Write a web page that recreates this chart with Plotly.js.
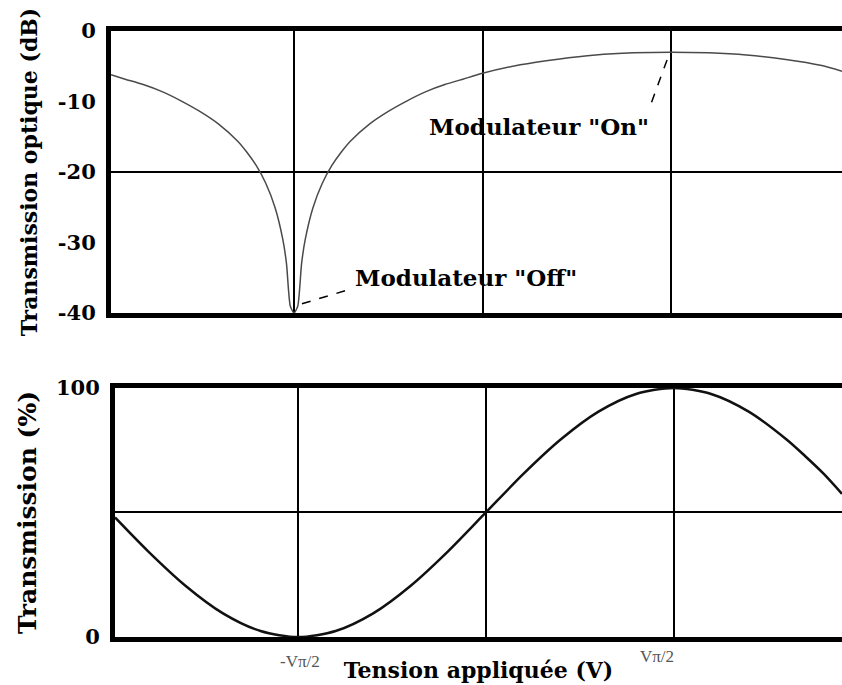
<!DOCTYPE html>
<html>
<head>
<meta charset="utf-8">
<script src="https://cdn.plot.ly/plotly-3.0.1.min.js"></script>
<style>
  body { margin: 0; background: #fff; }
  #chart { width: 842px; height: 685px; }
</style>
</head>
<body>
<div id="chart"></div>
<script>
// voltage in units of V_pi/2 : -1 = "-Vπ/2", 1 = "Vπ/2"
let dbX = [-1.971, -1.9, -1.8, -1.7, -1.6, -1.5, -1.4, -1.3, -1.25, -1.2, -1.15, -1.1, -1.06, -1.04, -1.02, -1.0,
           -0.98, -0.96, -0.94, -0.9, -0.85, -0.8, -0.75, -0.7, -0.6, -0.5, -0.4, -0.3, -0.2, -0.1, 0,
           0.2, 0.4, 0.6, 0.8, 1.0, 1.2, 1.4, 1.6, 1.8, 1.907];
let dbY = [-6.2, -6.8, -7.6, -8.6, -9.9, -11.4, -13.2, -15.6, -17.2, -19.1, -21.6, -25.1, -29.5, -33.0, -39.0, -40.0,
           -39.0, -33.0, -29.5, -25.1, -21.6, -19.1, -17.2, -15.6, -13.2, -11.4, -9.9, -8.6, -7.6, -6.8, -6.0,
           -4.8, -4.0, -3.4, -3.1, -3.0, -3.1, -3.4, -4.0, -4.9, -5.7];

let pctX = [-1.975, -1.8, -1.6, -1.4, -1.2, -1.0, -0.8, -0.6, -0.4, -0.2, 0, 0.2, 0.4, 0.6, 0.8, 1.0, 1.2, 1.4, 1.6, 1.7, 1.8, 1.897];
let pctY = [48, 34.5, 20.6, 9.5, 2.4, 0, 2.4, 9.5, 20.6, 34.5, 50, 65.5, 79.4, 90.5, 97.6, 100, 97.6, 90.5, 79.4, 72.7, 65.5, 57.5];

let dbTicks = [0, -10, -20, -30, -40];
let dbTickText = ["0", "-10", "-20", "-30", "-40"];
let pctTicks = [0, 100];
let voltGrid = [-1, 0, 1];
let voltLabels = ["-Vπ/2", "Vπ/2"];

let serif = "DejaVu Serif";
let boldFont = function(size) { return {family: serif, size: size, color: "#000", weight: "bold"}; };

let topCurve = {
    x: dbX, y: dbY, xaxis: "x", yaxis: "y",
    mode: "lines", type: "scatter", hoverinfo: "skip",
    line: {color: "#4a4a4a", width: 1.5, shape: "spline", smoothing: 0.6}
};
let bottomCurve = {
    x: pctX, y: pctY, xaxis: "x2", yaxis: "y2",
    mode: "lines", type: "scatter", hoverinfo: "skip",
    line: {color: "#111", width: 2.5, shape: "spline", smoothing: 0.8}
};
// empty traces so the overlaying grid axes get drawn
let gridTop = {x: [], y: [], xaxis: "x", yaxis: "y3", type: "scatter", mode: "lines", hoverinfo: "skip"};
let gridBottom = {x: [], y: [], xaxis: "x2", yaxis: "y4", type: "scatter", mode: "lines", hoverinfo: "skip"};

let xCommon = {
    tickvals: voltGrid, showticklabels: false, ticks: "",
    showgrid: true, gridcolor: "#000", gridwidth: 2, zeroline: false,
    showline: true, linecolor: "#000", linewidth: 5, mirror: true, fixedrange: true
};

let layout = {
    width: 842, height: 685,
    margin: {l: 111, r: 0, t: 31, b: 48},
    paper_bgcolor: "#fff", plot_bgcolor: "#fff",
    showlegend: false,
    font: {family: serif, color: "#000"},
    xaxis: Object.assign({}, xCommon, {domain: [0, 1], range: [-1.971, 1.907], anchor: "y"}),
    xaxis2: Object.assign({}, xCommon, {
        domain: [0.0055, 1], range: [-1.975, 1.897], anchor: "y2",
        title: {text: "Tension appliquée (V)", font: boldFont(22), standoff: 23}
    }),
    yaxis: {
        domain: [0.5347, 1], range: [-40, 0], anchor: "x",
        tickvals: dbTicks, ticktext: dbTickText, ticks: "", tickfont: boldFont(21), ticklabelstandoff: 6,
        showgrid: false, zeroline: false,
        showline: true, linecolor: "#000", linewidth: 5,
        title: {text: "Transmission optique (dB)", font: boldFont(22), standoff: 16}
    },
    yaxis3: {
        overlaying: "y", anchor: "x", range: [-40, 0], tickvals: [-20], showticklabels: false, ticks: "",
        showgrid: true, gridcolor: "#000", gridwidth: 2, zeroline: false, showline: false
    },
    yaxis2: {
        domain: [0, 0.4109], range: [0, 100], anchor: "x2",
        tickvals: pctTicks, ticks: "", tickfont: boldFont(21), ticklabelstandoff: 6,
        showgrid: false, zeroline: false,
        showline: true, linecolor: "#000", linewidth: 5,
        title: {text: "Transmission (%)", font: boldFont(25), standoff: 14}
    },
    yaxis4: {
        overlaying: "y2", anchor: "x2", range: [0, 100], tickvals: [50], showticklabels: false, ticks: "",
        showgrid: true, gridcolor: "#000", gridwidth: 2, zeroline: false, showline: false
    },
    annotations: [
        {text: "Modulateur \"On\"", xref: "x", yref: "y", x: 0.30, y: -13.5,
         showarrow: false, font: boldFont(23)},
        {text: "Modulateur \"Off\"", xref: "x", yref: "y", x: -0.09, y: -34.9,
         showarrow: false, font: boldFont(23)},
        {text: voltLabels[0], xref: "x2", yref: "paper", x: -1, y: -0.04, xshift: 2, yanchor: "middle",
         showarrow: false, font: {family: "Liberation Serif", size: 17, color: "#555"}},
        {text: voltLabels[1], xref: "x2", yref: "paper", x: 1, y: -0.033, xshift: -17, yanchor: "middle",
         showarrow: false, font: {family: "Liberation Serif", size: 17, color: "#555"}}
    ],
    shapes: [
        // dashed leader lines to the annotated points
        {type: "line", xref: "x", yref: "y", x0: 0.979, y0: -4.1, x1: 0.883, y1: -11.1,
         line: {color: "#000", width: 1.5, dash: "dash"}},
        {type: "line", xref: "x", yref: "y", x0: -0.958, y0: -38.7, x1: -0.687, y1: -36.5,
         line: {color: "#000", width: 1.5, dash: "dash"}}
    ]
};

Plotly.newPlot("chart", [topCurve, bottomCurve, gridTop, gridBottom], layout, {displayModeBar: false, staticPlot: true});
</script>
</body>
</html>
